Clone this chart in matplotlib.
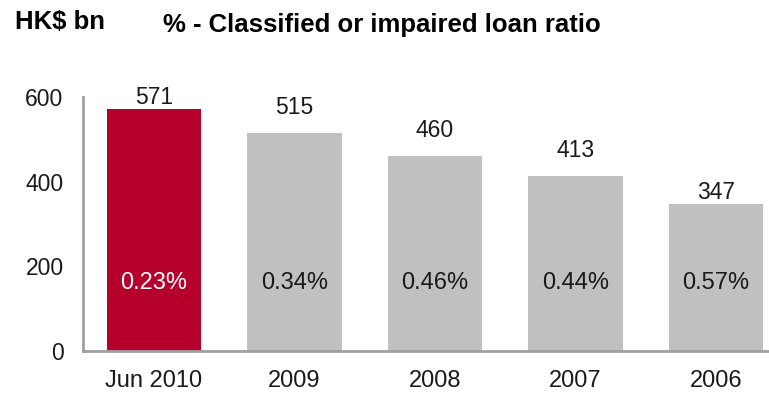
import matplotlib
matplotlib.use("Agg")
import matplotlib.pyplot as plt

categories = ["Jun 2010", "2009", "2008", "2007", "2006"]
loans = [571, 515, 460, 413, 347]
ratios = ["0.23%", "0.34%", "0.46%", "0.44%", "0.57%"]
colors = ["#B5002B", "#C0C0C0", "#C0C0C0", "#C0C0C0", "#C0C0C0"]
ratio_colors = ["white", "#1a1a1a", "#1a1a1a", "#1a1a1a", "#1a1a1a"]
label_offsets_pt = [0, 10, 10, 10, 0]

plt.rcParams['font.family'] = ['Liberation Sans', 'DejaVu Sans']

fig = plt.figure(figsize=(7.69, 3.95), dpi=100)
ax = fig.add_axes([83/769, 1 - 351/395, (768 - 83)/769, 254/395 * 660/600])

x = list(range(len(categories)))
ax.bar(x, loans, width=0.67, color=colors)
for xi, v, r, rc, off in zip(x, loans, ratios, ratio_colors, label_offsets_pt):
    ax.annotate(str(v), (xi, v), xytext=(0, off), textcoords='offset points',
                ha='center', va='bottom', fontsize=16.5, color='#1a1a1a')
    ax.text(xi, 160, r, ha='center', va='center', fontsize=17, color=rc)

ax.set_xlim(-0.505, 4.37)
ax.set_ylim(0, 660)
ax.set_yticks([0, 200, 400, 600])
ax.set_xticks(x)
ax.set_xticklabels(categories)
ax.tick_params(axis='both', length=0, colors='#1a1a1a')
ax.tick_params(axis='x', pad=14, labelsize=17)
ax.tick_params(axis='y', pad=14, labelsize=16.5)
for s in ['top', 'right']:
    ax.spines[s].set_visible(False)
for s in ['left', 'bottom']:
    ax.spines[s].set_color('#A0A0A0')
    ax.spines[s].set_linewidth(2)
ax.spines['left'].set_bounds(0, 600)

fig.text(15/769, 1 - 22/395, "HK$ bn", fontsize=18.5, fontweight='bold', va='center', ha='left')
fig.text(163/769, 1 - 25/395, "% - Classified or impaired loan ratio", fontsize=18.5, fontweight='bold', va='center', ha='left')

fig.savefig("out.png", dpi=100)
